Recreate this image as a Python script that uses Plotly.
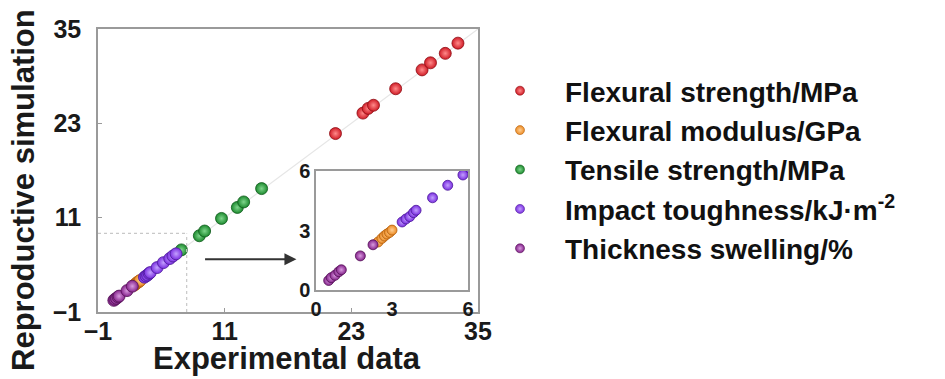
import plotly.graph_objects as go

# Experimental vs. reproduced values for each property
flex_str_exp = [21.5, 24.1, 24.6, 25.1, 27.2, 29.7, 30.5, 31.9, 33.1]
flex_str_sim = [21.7, 24.3, 24.9, 25.3, 27.4, 29.8, 30.7, 31.9, 33.2]

flex_mod_exp = [2.45, 2.6, 2.7, 2.8, 2.9, 3.0]
flex_mod_sim = [2.42, 2.6, 2.72, 2.82, 2.9, 3.02]

tensile_exp = [6.9, 8.6, 9.1, 10.7, 12.2, 12.8, 14.5]
tensile_sim = [6.9, 8.7, 9.3, 10.9, 12.3, 13.0, 14.7]

impact_exp = [3.4, 3.55, 3.7, 3.85, 3.95, 4.6, 5.2, 5.8, 6.1, 6.4]
impact_sim = [3.43, 3.58, 3.7, 3.9, 4.02, 4.65, 5.28, 5.8, 6.12, 6.4]

swelling_exp = [0.5, 0.6, 0.75, 0.9, 1.0, 1.75, 2.25]
swelling_sim = [0.48, 0.62, 0.74, 0.92, 1.02, 1.72, 2.28]

series = [
    ("Flexural strength/MPa", flex_str_exp, flex_str_sim, "#d01c26", "#ff8a8a", "#8e0d14"),
    ("Flexural modulus/GPa", flex_mod_exp, flex_mod_sim, "#ec8a22", "#ffcf94", "#b2600f"),
    ("Tensile strength/MPa", tensile_exp, tensile_sim, "#1c8a2e", "#7fd68c", "#0e5a1a"),
    ("Impact toughness/kJ·m<sup>-2</sup>", impact_exp, impact_sim, "#7a2ee0", "#c3a0ff", "#4c1a9a"),
    ("Thickness swelling/%", swelling_exp, swelling_sim, "#84228a", "#d99be0", "#561358"),
]

main_ticks = [-1, 11, 23, 35]
inset_ticks = [0, 3, 6]
ZOOM_X, ZOOM_Y = 7.4, 9.0          # corner of the magnified region
ARROW_FROM, ARROW_TO, ARROW_Y = 9.0, 17.8, 5.7

W, H = 945, 379
L, R, T, B = 98, 467, 29, 67
PW, PH = W - L - R, H - T - B


def px_x(p):
    return (p - L) / PW


def px_y(p):
    return (H - B - p) / PH


fig = go.Figure()

# 1:1 reference line
fig.add_trace(go.Scatter(x=[0, 35], y=[0, 35], mode="lines",
                         line=dict(color="#e6e6e6", width=1.2),
                         showlegend=False, hoverinfo="skip"))

for i, (name, xs, ys, col, hi, edge) in enumerate(series):
    fig.add_trace(go.Scatter(
        x=xs, y=ys, mode="markers", name=name, legendgroup=str(i), showlegend=False,
        marker=dict(size=12, color=col,
                    gradient=dict(type="radial", color=hi),
                    line=dict(width=0.8, color=edge)),
    ))

# inset: magnified 0-6 region
for i, (name, xs, ys, col, hi, edge) in enumerate(series):
    fig.add_trace(go.Scatter(
        x=xs, y=ys, mode="markers", name=name, legendgroup=str(i), showlegend=False,
        xaxis="x2", yaxis="y2",
        marker=dict(size=10, color=col,
                    gradient=dict(type="radial", color=hi),
                    line=dict(width=0.8, color=edge)),
    ))

# legend entries with smaller symbols
for i, (name, xs, ys, col, hi, edge) in enumerate(series):
    fig.add_trace(go.Scatter(
        x=[None], y=[None], mode="markers", name=name, legendgroup=str(i),
        marker=dict(size=9, color=col,
                    gradient=dict(type="radial", color=hi),
                    line=dict(width=0.6, color=edge)),
    ))

tick_font = dict(family="Liberation Sans, Arial", size=25, color="#1a1a1a", weight="bold")
inset_font = dict(family="Liberation Sans, Arial", size=20, color="#1a1a1a", weight="bold")
axis_line = dict(showline=True, linecolor="#9a9a9a", linewidth=1.5, mirror=True,
                 showgrid=False, zeroline=False)

fig.update_layout(
    width=W, height=H,
    margin=dict(l=L, r=R, t=T, b=B),
    paper_bgcolor="white", plot_bgcolor="white",
    xaxis=dict(range=[-1, 35], tickvals=main_ticks, ticks="inside", ticklen=4,
               tickcolor="#9a9a9a", tickfont=tick_font, ticklabelstandoff=-4,
               **axis_line),
    yaxis=dict(range=[-1, 35], tickvals=main_ticks, ticks="inside", ticklen=4,
               tickcolor="#9a9a9a", tickfont=tick_font, ticklabelstandoff=10,
               **axis_line),
    xaxis2=dict(domain=[px_x(316), px_x(468)], anchor="y2", range=[0, 6],
                tickvals=inset_ticks, ticks="", tickfont=inset_font,
                ticklabelstandoff=0, **axis_line),
    yaxis2=dict(domain=[px_y(290), px_y(171)], anchor="x2", range=[0, 6],
                tickvals=inset_ticks, ticks="", tickfont=inset_font,
                ticklabelstandoff=0, **axis_line),
    legend=dict(x=px_x(475), y=px_y(66), xanchor="left", yanchor="top",
                font=dict(family="Liberation Sans, Arial", size=28, color="#111",
                          weight="bold"),
                itemwidth=80, tracegroupgap=0, bgcolor="rgba(0,0,0,0)"),
    showlegend=True,
)

# dotted outline of the magnified region
fig.add_shape(type="line", x0=-1, x1=ZOOM_X, y0=ZOOM_Y, y1=ZOOM_Y, xref="x", yref="y",
              line=dict(color="#c8c8c8", width=1.2, dash="dot"))
fig.add_shape(type="line", x0=ZOOM_X, x1=ZOOM_X, y0=-1, y1=ZOOM_Y, xref="x", yref="y",
              line=dict(color="#c8c8c8", width=1.2, dash="dot"))

# arrow pointing to the inset
fig.add_annotation(x=ARROW_TO, y=ARROW_Y, ax=ARROW_FROM, ay=ARROW_Y,
                   xref="x", yref="y", axref="x", ayref="y",
                   text="", showarrow=True, arrowhead=2, arrowsize=1.2,
                   arrowwidth=2, arrowcolor="#333333")

title_font = dict(family="Liberation Sans, Arial", size=31, color="#1a1a1a", weight="bold")
fig.add_annotation(text="Experimental data", xref="paper", yref="paper",
                   x=px_x(287), y=px_y(358), xanchor="center", yanchor="middle",
                   showarrow=False, font=title_font)
fig.add_annotation(text="Reproductive simulation", xref="paper", yref="paper",
                   x=px_x(23), y=px_y(190), xanchor="center", yanchor="middle",
                   textangle=-90, showarrow=False, font=title_font)

fig.write_html("out.html")
